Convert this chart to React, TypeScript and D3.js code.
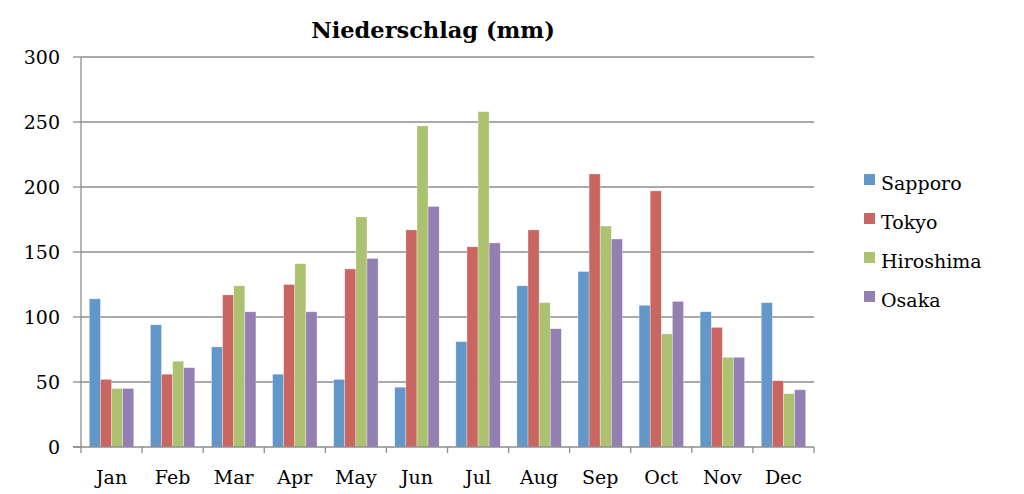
import React from "react";
import * as d3 from "d3";

const months = ["Jan", "Feb", "Mar", "Apr", "May", "Jun", "Jul", "Aug", "Sep", "Oct", "Nov", "Dec"];
const seriesNames = ["Sapporo", "Tokyo", "Hiroshima", "Osaka"];
const sapporo = [114, 94, 77, 56, 52, 46, 81, 124, 135, 109, 104, 111];
const tokyo = [52, 56, 117, 125, 137, 167, 154, 167, 210, 197, 92, 51];
const hiroshima = [45, 66, 124, 141, 177, 247, 258, 111, 170, 87, 69, 41];
const osaka = [45, 61, 104, 104, 145, 185, 157, 91, 160, 112, 69, 44];
const yTicks = [0, 50, 100, 150, 200, 250, 300];
const colors = ["#6396C9", "#CA6662", "#ADC271", "#937FB2"];

export default function App() {
  const W = 1024, H = 494;
  const left = 81, right = 814, top = 57, bottom = 447;
  const x = d3.scaleBand<string>().domain(months).range([left, right]).paddingInner(0).paddingOuter(0);
  const y = d3.scaleLinear().domain([0, 300]).range([bottom, top]);
  const data = [sapporo, tokyo, hiroshima, osaka];
  const bw = x.bandwidth();
  const barW = bw / 5.5;
  const inner = d3.scaleBand<number>().domain([0, 1, 2, 3]).range([barW * 0.75, barW * 4.75]);
  const font = "'DejaVu Serif', serif";
  return (
    <svg width={W} height={H} style={{ position: "absolute", left: 0, top: 0, background: "#fff" }}>
      <text x={433} y={38} textAnchor="middle" fontFamily={font} fontWeight="bold" fontSize={22.5} fill="#000">
        Niederschlag (mm)
      </text>
      {yTicks.map((t) => (
        <g key={t}>
          {t > 0 && <line x1={left} x2={right} y1={y(t)} y2={y(t)} stroke="#8c8c8c" strokeWidth={1.3} />}
          <line x1={left - 8} x2={left} y1={y(t)} y2={y(t)} stroke="#8c8c8c" strokeWidth={1.3} />
          <text x={60} y={y(t) + 7} textAnchor="end" fontFamily={font} fontSize={19} fill="#000">{t}</text>
        </g>
      ))}
      {data.map((vals, si) =>
        vals.map((v, i) => (
          <rect
            key={si + "-" + i}
            x={(x(months[i]) as number) + (inner(si) as number)}
            y={y(v)}
            width={inner.bandwidth()}
            height={bottom - y(v)}
            fill={colors[si]}
            stroke="#ffffff"
            strokeOpacity={0.5}
            strokeWidth={0.6}
          />
        ))
      )}
      <line x1={left} x2={left} y1={top} y2={bottom} stroke="#8c8c8c" strokeWidth={1.3} />
      <line x1={left - 8} x2={right} y1={bottom} y2={bottom} stroke="#8c8c8c" strokeWidth={1.3} />
      {months.map((m) => (
        <line key={"t" + m} x1={x(m) as number} x2={x(m) as number} y1={bottom} y2={bottom + 6} stroke="#8c8c8c" strokeWidth={1.3} />
      ))}
      <line x1={right} x2={right} y1={bottom} y2={bottom + 6} stroke="#8c8c8c" strokeWidth={1.3} />
      {months.map((m) => (
        <text key={"l" + m} x={(x(m) as number) + bw / 2} y={484} textAnchor="middle" fontFamily={font} fontSize={19} fill="#000">{m}</text>
      ))}
      {seriesNames.map((n, i) => (
        <g key={n}>
          <rect x={864} y={174 + i * 39} width={11} height={11} fill={colors[i]} />
          <text x={881} y={190 + i * 39} fontFamily={font} fontSize={19} fill="#000">{n}</text>
        </g>
      ))}
    </svg>
  );
}
